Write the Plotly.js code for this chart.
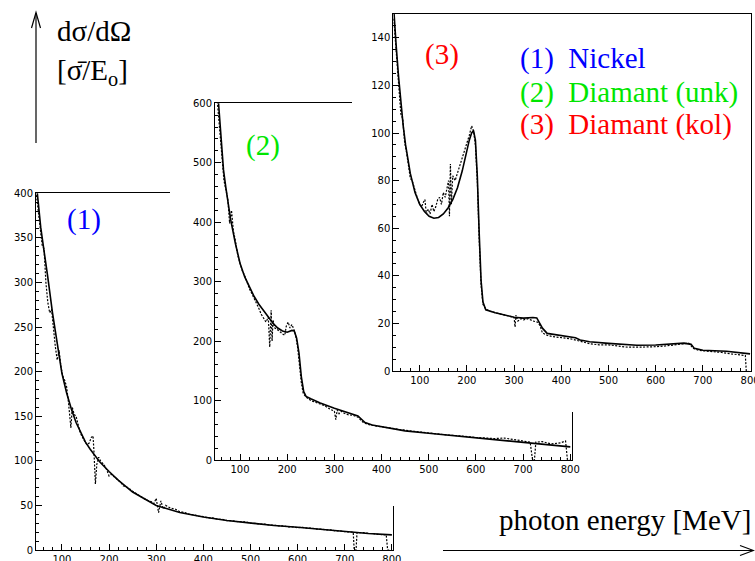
<!DOCTYPE html>
<html>
<head>
<meta charset="utf-8">
<script src="https://cdn.plot.ly/plotly-3.0.1.min.js"></script>
<style>html,body{margin:0;padding:0;background:#fff;}#chart{width:755px;height:561px;}</style>
</head>
<body>
<div id="chart"></div>
<script>
// ---------------- DATA ----------------
// Panel (1) Nickel: theory curve (solid) and measurement (dotted)
const theoryE1 = [45, 50, 55, 60, 65, 70, 80, 90, 100, 110, 120, 130, 140, 150, 160, 170, 180, 200, 220, 250, 280, 300, 350, 400, 450, 500, 550, 600, 650, 700, 750, 800];
const theory1  = [415, 385, 362, 343, 326, 306, 266, 230, 198, 176, 158, 143, 131, 121, 113, 106, 99, 88, 78, 65, 56, 50, 42, 37, 33, 30, 27.5, 25.5, 23, 20.5, 18.5, 17];
const measE1 = [46, 50, 54, 58, 62, 66, 70, 74, 78, 82, 86, 90, 94, 98, 102, 106, 110, 114, 117, 119, 122, 126, 130, 134, 138, 142, 146, 150, 154, 158, 162, 166, 168, 171, 174, 178, 182, 186, 190, 195, 200, 205, 210, 215, 220, 225, 230, 240, 250, 260, 270, 280, 290, 295, 300, 305, 310, 315, 320, 330, 340, 350, 360, 370, 380, 390, 400, 410, 420, 430, 440, 450, 460, 470, 480, 490, 500, 510, 520, 530, 540, 550, 560, 570, 580, 590, 600, 610, 620, 630, 640, 650, 660, 670, 680, 690, 700, 710, 718, 720, 724, 726, 730, 740, 750, 760, 770, 780, 788, 791, 795];
const meas1  = [398, 380, 365, 342, 338, 300, 278, 266, 270, 248, 228, 213, 224, 205, 195, 190, 183, 165, 150, 137, 160, 152, 150, 140, 133, 128, 124, 120, 118, 120, 126, 128, 110, 74, 96, 104, 100, 98, 95, 90, 83, 85, 82, 80, 78, 76, 72, 70, 66, 62, 59, 56, 54, 52, 58, 42, 55, 46, 50, 47, 46, 43, 42, 40, 39.5, 38, 37.5, 36, 36, 34.5, 34.5, 33, 33, 32, 31.5, 31.5, 30, 30, 29, 29, 28, 28, 27, 27, 26, 26, 25, 25.5, 24.5, 24.5, 23.5, 23.5, 22.5, 22.5, 21.5, 21.5, 20.5, 20.5, 20, 0, 0, 19.5, 19.5, 19.5, 18.5, 18.5, 17.5, 17.5, 17, 0, 0];

// Panel (2) Diamant (unk)
const theoryE2 = [47, 50, 55, 60, 65, 70, 80, 90, 100, 110, 120, 130, 140, 150, 160, 170, 180, 190, 200, 210, 215, 220, 225, 230, 235, 240, 250, 270, 300, 320, 340, 350, 357, 365, 380, 400, 450, 500, 550, 600, 650, 700, 750, 800];
const theory2  = [680, 650, 595, 540, 488, 458, 405, 365, 331, 308, 292, 275, 262, 251, 240, 230, 222, 217, 215, 218, 217, 205, 180, 140, 115, 107, 103, 96, 87, 82, 77, 74, 69, 63, 59, 56, 49, 45, 41, 37, 33, 29, 25, 22];
const measE2 = [47, 50, 54, 58, 62, 66, 70, 74, 78, 82, 86, 90, 95, 100, 105, 110, 115, 120, 125, 130, 135, 140, 145, 150, 155, 160, 163, 166, 168, 170, 174, 178, 182, 186, 190, 195, 198, 202, 206, 210, 214, 218, 222, 226, 230, 234, 240, 250, 260, 270, 280, 290, 300, 303, 306, 310, 315, 320, 330, 340, 350, 355, 360, 370, 380, 390, 400, 420, 440, 460, 480, 500, 520, 540, 560, 580, 600, 620, 640, 660, 680, 700, 715, 720, 724, 727, 740, 750, 760, 770, 780, 790, 794, 798];
const meas2  = [650, 620, 590, 555, 505, 470, 455, 440, 398, 420, 385, 370, 345, 330, 318, 310, 297, 288, 280, 272, 265, 255, 245, 238, 232, 240, 190, 252, 200, 235, 222, 220, 218, 215, 212, 210, 225, 232, 222, 228, 220, 210, 190, 160, 130, 112, 106, 100, 97, 94, 91, 86, 82, 68, 84, 78, 82, 79, 76, 75, 72, 68, 64, 60, 58, 57, 56, 53, 51, 49, 47, 45.5, 44, 42, 41, 39, 38, 37, 36, 37, 34, 31, 30, 0, 0, 30, 31, 29, 27, 28, 29, 32, 0, 0];

// Panel (3) Diamant (kol)
const theoryE3 = [44, 46, 50, 55, 60, 65, 70, 80, 90, 100, 110, 120, 130, 140, 150, 160, 170, 180, 190, 200, 205, 210, 214, 218, 222, 226, 230, 234, 240, 260, 280, 300, 320, 340, 348, 355, 360, 370, 400, 430, 440, 460, 500, 560, 600, 640, 660, 675, 682, 700, 750, 800];
const theory3  = [155, 148, 137, 124, 112, 103, 95, 83, 75, 70, 67, 65, 64.2, 64.5, 66, 68.5, 72, 77, 84, 93, 97, 100, 101, 97, 82, 58, 38, 29, 25.7, 24.5, 23.5, 22.6, 22.2, 22.5, 22.3, 20, 18, 15.8, 14.8, 14, 13, 12.3, 11.6, 10.8, 10.9, 11.5, 11.7, 11.2, 9.5, 8.7, 8.3, 7.2];
const measE3 = [45, 48, 52, 56, 60, 64, 68, 72, 76, 80, 84, 88, 92, 96, 100, 104, 108, 111, 114, 118, 122, 126, 130, 134, 138, 142, 146, 150, 154, 158, 161, 163, 165, 167, 170, 175, 180, 185, 190, 195, 200, 205, 210, 214, 218, 222, 226, 230, 234, 240, 250, 260, 270, 280, 290, 300, 302, 304, 308, 315, 320, 330, 340, 350, 355, 360, 370, 380, 400, 420, 440, 460, 480, 500, 520, 540, 560, 580, 600, 620, 640, 660, 670, 680, 690, 700, 720, 740, 760, 780, 790, 792, 796];
const meas3  = [148, 140, 128, 120, 108, 106, 96, 92, 86, 81, 80, 77, 74, 72, 70, 69, 71, 72, 66, 68, 66, 70, 67, 69, 72, 73, 70, 75, 73, 78, 80, 65, 87, 70, 82, 80, 83, 86, 90, 92, 96, 99, 103, 101, 95, 80, 55, 36, 28, 26, 25, 24.5, 24, 23.5, 23, 22.5, 18.5, 23.5, 21, 22, 21.5, 22, 21, 20.5, 19, 16, 15, 14.5, 14, 13.5, 12.5, 11.5, 11, 11, 10.5, 10, 10, 10, 10.2, 10.5, 11, 11.5, 11.7, 9.5, 8.8, 8.5, 8.3, 7.8, 7.2, 6.8, 6.5, 0, 0];

const panelLabels = ['(1)', '(2)', '(3)'];
const legendTexts = ['(1)\u00a0\u00a0Nickel', '(2)\u00a0\u00a0Diamant (unk)', '(3)\u00a0\u00a0Diamant (kol)'];
const yTitleLines = ['d\u03c3/d\u03a9', '[\u03c3\u0304/E<sub>o</sub>]'];
const xTitle = 'photon energy [MeV]';

// ---------------- LAYOUT HELPERS ----------------
const W = 755, H = 561;
const px = v => v / W;
const py = v => 1 - v / H;
const colors = ['#0000ff', '#00e600', '#ff0000'];

function solid(x, y, n) {
  return {x: x, y: y, xaxis: 'x' + n, yaxis: 'y' + n, mode: 'lines', type: 'scatter',
          line: {color: 'black', width: 1.6}, hoverinfo: 'skip'};
}
function dotted(x, y, n) {
  return {x: x, y: y, xaxis: 'x' + n, yaxis: 'y' + n, mode: 'lines', type: 'scatter',
          line: {color: 'black', width: 1.2, dash: '2px,1.5px'}, hoverinfo: 'skip'};
}
function cover(n) {
  return {x: [], y: [], xaxis: 'x' + n, yaxis: 'y' + n, mode: 'lines', type: 'scatter', hoverinfo: 'skip'};
}

const tickFont = {family: 'DejaVu Sans, Arial, sans-serif', size: 10, color: 'black'};
function realAxis(domain, range, dtick, minorDtick, anchor) {
  return {domain: domain, range: range, anchor: anchor, showline: true, linecolor: 'black', linewidth: 1,
          mirror: true, ticks: 'inside', ticklen: 6, tickwidth: 1, tickcolor: 'black', dtick: dtick, tick0: 0,
          minor: {ticks: 'inside', ticklen: 3, dtick: minorDtick, tickcolor: 'black', showgrid: false},
          showgrid: false, zeroline: false, tickfont: tickFont, fixedrange: true, ticklabeloverflow: 'allow'};
}
function coverAxis(domain, anchor) {
  return {domain: domain, range: [0, 1], anchor: anchor, visible: true, showline: false, showticklabels: false,
          ticks: '', showgrid: false, zeroline: false, fixedrange: true};
}

const data = [
  solid(theoryE1, theory1, ''), dotted(measE1, meas1, ''),
  cover(2),
  solid(theoryE2, theory2, 3), dotted(measE2, meas2, 3),
  cover(4),
  solid(theoryE3, theory3, 5), dotted(measE3, meas3, 5)
];

const serif = 'Liberation Serif, Times New Roman, serif';
const annotations = [
  {text: yTitleLines[0], x: px(55), y: py(31), xanchor: 'left', yanchor: 'middle'},
  {text: yTitleLines[1], x: px(55), y: py(72), xanchor: 'left', yanchor: 'middle'},
  {text: xTitle, x: px(753), y: py(520), xanchor: 'right', yanchor: 'middle'},
  {text: panelLabels[0], x: px(84), y: py(220), xanchor: 'center', yanchor: 'middle', font: {color: colors[0]}},
  {text: panelLabels[1], x: px(263), y: py(145), xanchor: 'center', yanchor: 'middle', font: {color: colors[1]}},
  {text: panelLabels[2], x: px(442), y: py(55), xanchor: 'center', yanchor: 'middle', font: {color: colors[2]}},
  {text: legendTexts[0], x: px(518), y: py(58), xanchor: 'left', yanchor: 'middle', font: {color: colors[0]}},
  {text: legendTexts[1], x: px(518), y: py(92), xanchor: 'left', yanchor: 'middle', font: {color: colors[1]}},
  {text: legendTexts[2], x: px(518), y: py(124), xanchor: 'left', yanchor: 'middle', font: {color: colors[2]}}
].map(a => Object.assign({xref: 'paper', yref: 'paper', showarrow: false},
                          a, {font: Object.assign({family: serif, size: 29, color: 'black'}, a.font || {})}));

const arrowLine = {color: 'black', width: 1.2};
const shapes = [
  {type: 'line', xref: 'paper', yref: 'paper', x0: px(36), y0: py(143), x1: px(36), y1: py(13), line: arrowLine},
  {type: 'path', xref: 'paper', yref: 'paper', layer: 'above', line: arrowLine,
   path: `M${px(31.5)},${py(28)} L${px(36)},${py(12.5)} L${px(40.5)},${py(28)}`},
  {type: 'line', xref: 'paper', yref: 'paper', x0: px(443), y0: py(550.5), x1: px(753), y1: py(550.5), line: arrowLine},
  {type: 'path', xref: 'paper', yref: 'paper', layer: 'above', line: arrowLine,
   path: `M${px(740)},${py(545.5)} L${px(753.5)},${py(550.5)} L${px(740)},${py(555.5)}`}
];

const layout = {
  width: W, height: H, margin: {l: 0, r: 0, t: 0, b: 0},
  paper_bgcolor: 'white', plot_bgcolor: 'white', showlegend: false,
  xaxis:  realAxis([px(36), px(393.3)], [45, 803], 100, 20, 'y'),
  yaxis:  realAxis([py(550), py(193.3)], [0, 400], 50, 10, 'x'),
  xaxis2: coverAxis([px(170), px(574)], 'y2'),
  yaxis2: coverAxis([py(506), py(90)], 'x2'),
  xaxis3: realAxis([px(215), px(571.7)], [47, 803], 100, 20, 'y3'),
  yaxis3: realAxis([py(460), py(103.3)], [0, 600], 100, 20, 'x3'),
  xaxis4: coverAxis([px(352), 1], 'y4'),
  yaxis4: coverAxis([py(412), 1], 'x4'),
  xaxis5: realAxis([px(393.3), px(751)], [44, 802], 100, 20, 'y5'),
  yaxis5: realAxis([py(371), py(14)], [0, 150], 20, 5, 'x5'),
  annotations: annotations,
  shapes: shapes
};

Plotly.newPlot('chart', data, layout, {staticPlot: true, displayModeBar: false});
</script>
</body>
</html>
